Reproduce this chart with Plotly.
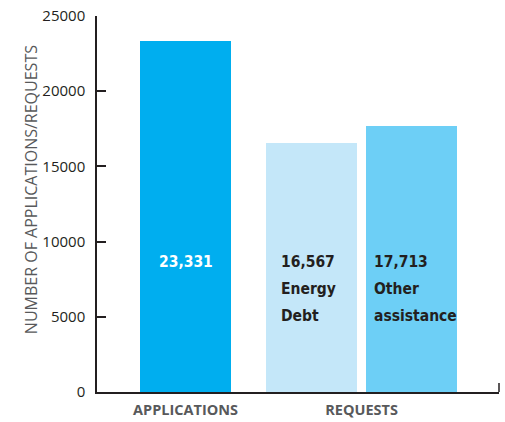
import plotly.graph_objects as go

# ---- data ----
categories = ["APPLICATIONS", "REQUESTS", "REQUESTS"]
bar_names = ["Applications", "Energy Debt", "Other assistance"]
values = [23331, 16567, 17713]
bar_labels = [["23,331"], ["16,567", "Energy", "Debt"], ["17,713", "Other", "assistance"]]
y_ticks = [0, 5000, 10000, 15000, 20000, 25000]
y_title = "NUMBER OF APPLICATIONS/REQUESTS"

# ---- style ----
colors = ["#00AEEF", "#C4E7F9", "#6DCFF6"]
label_colors = ["#FFFFFF", "#231F20", "#231F20"]
bar_width = 0.517
bar_offsets = [-0.2585, -0.5426, 0.0256]
label_x = [0, 0.535, 1.066]
label_anchor = ["center", "left", "left"]
axis_color = "#231F20"
plot_top_px, plot_bottom_px = 16, 392
y_max = 25000
first_line_px = 262
line_step_px = 27


def px_to_val(px):
    return (plot_bottom_px - px) / (plot_bottom_px - plot_top_px) * y_max


fig = go.Figure()
fig.add_trace(go.Bar(
    x=categories, y=values,
    width=[bar_width] * len(values),
    offset=bar_offsets,
    marker=dict(color=colors, line=dict(width=0)),
    hoverinfo="y",
    showlegend=False,
))

for i, lines in enumerate(bar_labels):
    for k, line in enumerate(lines):
        fig.add_annotation(
            x=label_x[i], y=px_to_val(first_line_px + k * line_step_px),
            xref="x", yref="y",
            text=line, showarrow=False, xanchor=label_anchor[i], yanchor="middle",
            font=dict(family="DejaVu Sans Condensed, Liberation Sans Narrow, sans-serif",
                      size=15.5, color=label_colors[i], weight="bold"),
            borderpad=0,
        )

fig.add_annotation(
    x=-0.164, y=0.537, xref="paper", yref="paper",
    text=y_title, textangle=-90, showarrow=False,
    xanchor="center", yanchor="middle",
    font=dict(family="Open Sans, sans-serif", size=16, color="#58595B"),
)

fig.add_shape(type="line", xref="paper", yref="paper",
              x0=1, x1=1, y0=0, y1=9 / 376,
              line=dict(color=axis_color, width=1.5))

fig.update_layout(
    width=505, height=422,
    margin=dict(l=97, r=6, t=16, b=30, autoexpand=False),
    paper_bgcolor="white", plot_bgcolor="white",
    bargap=0,
    xaxis=dict(
        type="category",
        range=[-0.503, 1.781],
        automargin=False,
        showline=True, linecolor=axis_color, linewidth=1.5,
        ticks="", showgrid=False, zeroline=False,
        tickfont=dict(family="Open Sans, sans-serif", size=14.5, color="#58595B", weight="bold"),
        ticklabelstandoff=4,
    ),
    yaxis=dict(
        range=[0, y_max],
        automargin=False,
        tickvals=y_ticks, ticktext=[str(v) for v in y_ticks],
        showline=True, linecolor=axis_color, linewidth=1.5,
        ticks="inside", ticklen=9, tickwidth=1.5, tickcolor=axis_color,
        showgrid=False, zeroline=False,
        tickfont=dict(family="Open Sans, sans-serif", size=15, color="#231F20"),
        ticklabelstandoff=7,
    ),
)

fig.write_html("out.html", config={"displayModeBar": False})

# remove the browser's default page margin so the figure sits at the top-left corner
with open("out.html", encoding="utf-8") as f:
    html = f.read()
html = html.replace("<head>", "<head><style>html,body{margin:0;padding:0;overflow:hidden;}</style>", 1)
with open("out.html", "w", encoding="utf-8") as f:
    f.write(html)
